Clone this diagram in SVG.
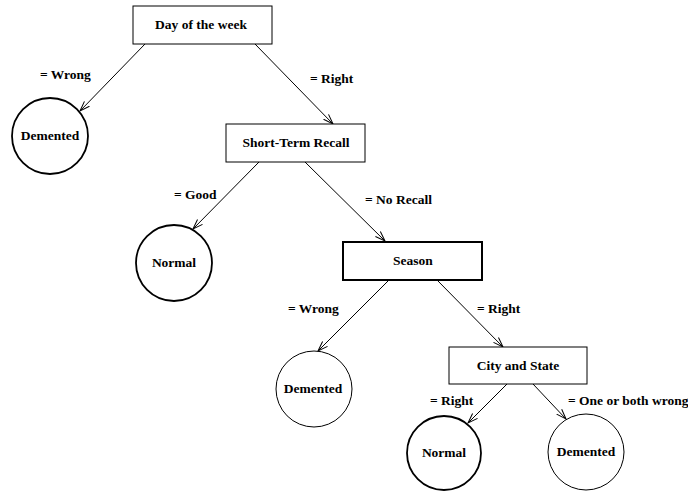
<svg xmlns="http://www.w3.org/2000/svg" width="688" height="491" viewBox="0 0 688 491">
<defs>
<style>
text{font-family:"Liberation Serif","Times New Roman",serif;font-weight:bold;font-size:13.5px;fill:#000}
.n{text-anchor:middle}
.box{fill:#fff;stroke:#000;stroke-width:1}
.thick{stroke-width:2}
.c{fill:#fff;stroke:#000;stroke-width:1}
.ct{fill:#fff;stroke:#000;stroke-width:1.8}
.e{stroke:#000;stroke-width:1;fill:none;marker-end:url(#arr)}
</style>
<marker id="arr" viewBox="0 0 11 10" refX="10" refY="5" markerWidth="11" markerHeight="10" markerUnits="userSpaceOnUse" orient="auto">
<path d="M0,1.5 L10,5 L0,8.5" fill="none" stroke="#000" stroke-width="1"/>
</marker>
</defs>
<rect width="688" height="491" fill="#fff"/>
<g id="connectors">
<line class="e" x1="145" y1="44" x2="80" y2="111"/>
<line class="e" x1="255" y1="44" x2="333" y2="124"/>
<line class="e" x1="259" y1="162" x2="193" y2="229"/>
<line class="e" x1="305" y1="162" x2="385" y2="241"/>
<line class="e" x1="389" y1="280" x2="318" y2="351"/>
<line class="e" x1="437" y1="280" x2="503" y2="347"/>
<line class="e" x1="507" y1="384" x2="468" y2="423"/>
<line class="e" x1="533" y1="384" x2="566" y2="419"/>
<text x="40" y="79">= Wrong</text>
<text x="310" y="83">= Right</text>
<text x="174" y="199">= Good</text>
<text x="365" y="204">= No Recall</text>
<text x="288" y="313">= Wrong</text>
<text x="477" y="313">= Right</text>
<text x="430" y="405">= Right</text>
<text x="568" y="405">= One or both wrong</text>
</g>
<g id="day">
<rect class="box" x="133" y="6" width="139" height="38"/>
<text class="n" x="201" y="29">Day of the week</text>
</g>
<g id="demented1">
<circle class="ct" cx="50" cy="136" r="38"/>
<text class="n" x="50" y="140">Demented</text>
</g>
<g id="recall">
<rect class="box" x="226" y="124" width="139" height="38"/>
<text class="n" x="296" y="147">Short-Term Recall</text>
</g>
<g id="normal1">
<circle class="ct" cx="174" cy="263" r="38"/>
<text class="n" x="174" y="267">Normal</text>
</g>
<g id="season">
<rect class="box thick" x="343" y="242" width="139" height="38"/>
<text class="n" x="413" y="265">Season</text>
</g>
<g id="demented2">
<circle class="c" cx="314" cy="389" r="38"/>
<text class="n" x="313" y="393">Demented</text>
</g>
<g id="city">
<rect class="box" x="449" y="347" width="138" height="37"/>
<text class="n" x="518" y="370">City and State</text>
</g>
<g id="normal2">
<circle class="ct" cx="444" cy="453" r="37"/>
<text class="n" x="444" y="457">Normal</text>
</g>
<g id="demented3">
<circle class="c" cx="586" cy="452" r="38"/>
<text class="n" x="586" y="456">Demented</text>
</g>
</svg>
